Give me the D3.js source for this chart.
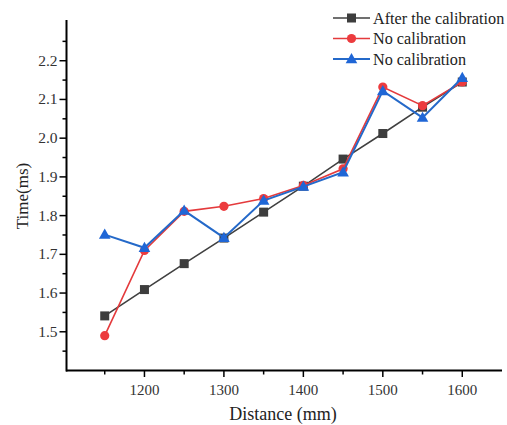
<!DOCTYPE html>
<html><head><meta charset="utf-8">
<script src="https://cdn.jsdelivr.net/npm/d3@7"></script>
<style>body{margin:0;background:#fff}svg{display:block}</style>
</head><body>
<script>
const distances = [1150,1200,1250,1300,1350,1400,1450,1500,1550,1600];
const afterCal = [1.541,1.609,1.676,1.742,1.809,1.876,1.946,2.012,2.080,2.145];
const noCalRed = [1.490,1.710,1.811,1.824,1.844,1.878,1.921,2.132,2.084,2.145];
const noCalBlue = [1.751,1.717,1.813,1.743,1.839,1.875,1.912,2.122,2.053,2.156];
const seriesNames = ["After the calibration","No calibration","No calibration"];
const xTicks = [1200,1300,1400,1500,1600];
const yTicks = [1.5,1.6,1.7,1.8,1.9,2.0,2.1,2.2];

const W=507,H=425;
const svg=d3.select("body").append("svg").attr("width",W).attr("height",H);
const x=d3.scaleLinear().domain([1100,1650]).range([65,502]);
const y=d3.scaleLinear().domain([1.4,2.3]).range([370.5,22]);
const font="'Liberation Serif','Times New Roman',serif";

// axes
const xAxis=svg.append("g").attr("transform","translate(0,370.5)");
xAxis.append("line").attr("x1",66).attr("x2",502).attr("stroke","#000").attr("stroke-width",2);
const xMinor=d3.range(1150,1650,100);
xAxis.selectAll(".xm").data(xMinor).join("line").attr("x1",d=>x(d)).attr("x2",d=>x(d)).attr("y1",0).attr("y2",4).attr("stroke","#000").attr("stroke-width",1.5);
xAxis.selectAll(".xM").data(xTicks).join("line").attr("x1",d=>x(d)).attr("x2",d=>x(d)).attr("y1",0).attr("y2",6.5).attr("stroke","#000").attr("stroke-width",1.5);
xAxis.selectAll("text").data(xTicks).join("text").attr("x",d=>x(d)).attr("y",24).attr("text-anchor","middle").attr("font-family",font).attr("font-size",15).attr("fill","#333").text(d=>d);

const yAxis=svg.append("g").attr("transform","translate(66.5,0)");
yAxis.append("line").attr("y1",20).attr("y2",371.5).attr("stroke","#000").attr("stroke-width",2);
const yMinor=[1.45,1.55,1.65,1.75,1.85,1.95,2.05,2.15,2.25];
yAxis.selectAll(".ym").data(yMinor).join("line").attr("y1",d=>y(d)).attr("y2",d=>y(d)).attr("x1",0).attr("x2",-4).attr("stroke","#000").attr("stroke-width",1.5);
yAxis.selectAll(".yM").data(yTicks).join("line").attr("y1",d=>y(d)).attr("y2",d=>y(d)).attr("x1",0).attr("x2",-7).attr("stroke","#000").attr("stroke-width",1.5);
yAxis.selectAll("text").data(yTicks).join("text").attr("x",-9).attr("y",d=>y(d)+5).attr("text-anchor","end").attr("font-family",font).attr("font-size",15.5).attr("fill","#333").text(d=>d.toFixed(1));

svg.append("text").attr("x",283).attr("y",420).attr("text-anchor","middle").attr("font-family",font).attr("font-size",18).attr("fill","#222").text("Distance (mm)");
svg.append("text").attr("transform","translate(28,196) rotate(-90)").attr("text-anchor","middle").attr("font-family",font).attr("font-size",17).attr("fill","#222").text("Time(ms)");

const series=[
 {vals:afterCal,color:"#404040",mcolor:"#3d3d3d",lw:1.6,shape:"square"},
 {vals:noCalRed,color:"#e43a3c",mcolor:"#ec3b3e",lw:1.6,shape:"circle"},
 {vals:noCalBlue,color:"#2469c9",mcolor:"#1f66d6",lw:2,shape:"triangle"}
];
const line=d3.line().x(d=>x(d[0])).y(d=>y(d[1]));
function marker(g,shape,cx,cy,c){
  if(shape==="square") g.append("rect").attr("x",cx-4.5).attr("y",cy-4.5).attr("width",9).attr("height",9).attr("fill",c);
  else if(shape==="circle") g.append("circle").attr("cx",cx).attr("cy",cy).attr("r",4.6).attr("fill",c);
  else g.append("path").attr("d",`M${cx},${cy-6}L${cx+5.8},${cy+4.2}L${cx-5.8},${cy+4.2}Z`).attr("fill",c);
}
series.forEach(s=>{
  const pts=distances.map((d,i)=>[d,s.vals[i]]);
  svg.append("path").attr("d",line(pts)).attr("fill","none").attr("stroke",s.color).attr("stroke-width",s.lw);
  const g=svg.append("g");
  pts.forEach(p=>marker(g,s.shape,x(p[0]),y(p[1]),s.mcolor));
});

// legend
const leg=svg.append("g");
series.forEach((s,i)=>{
  const yy=18+i*20.5;
  leg.append("line").attr("x1",333).attr("x2",370).attr("y1",yy).attr("y2",yy).attr("stroke",s.color).attr("stroke-width",s.lw);
  marker(leg,s.shape,351.5,yy,s.mcolor);
  leg.append("text").attr("x",373).attr("y",yy+5.5).attr("font-family",font).attr("font-size",16.2).attr("fill","#222").text(seriesNames[i]);
});
</script>
</body></html>
